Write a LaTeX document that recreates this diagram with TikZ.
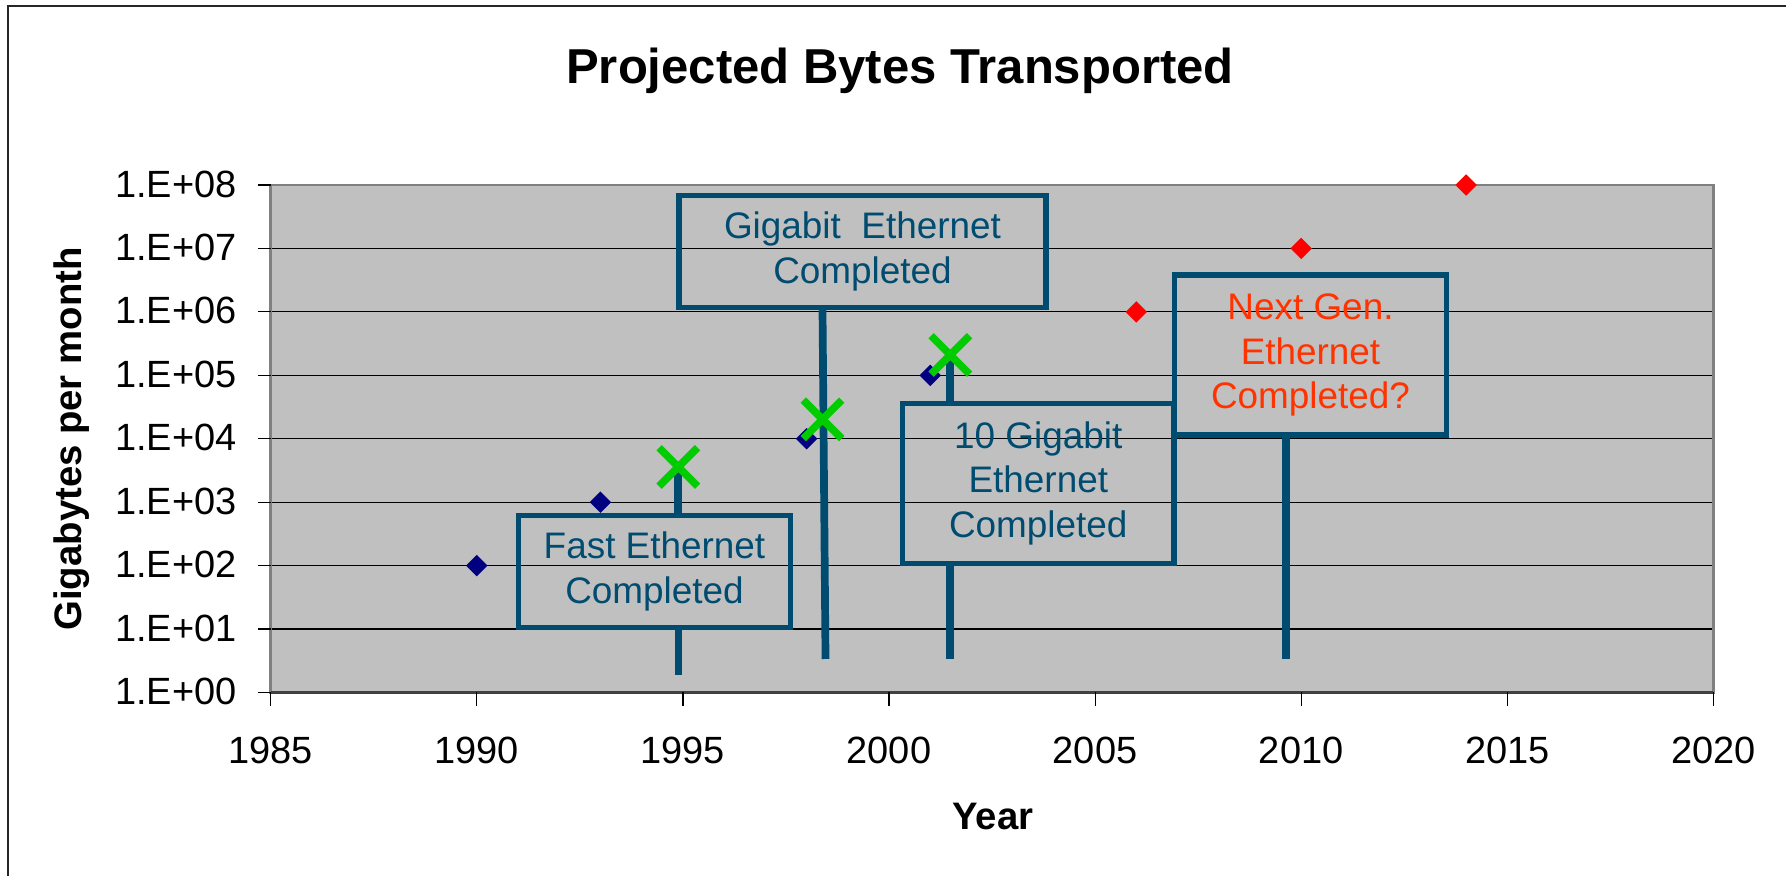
\documentclass[tikz,border=0pt]{standalone}
\usepackage{fontspec}
\setmainfont{Liberation Sans}
\usetikzlibrary{shapes.geometric,shapes.misc}

\definecolor{plotgray}{HTML}{C0C0C0}
\definecolor{navy}{HTML}{000080}
\definecolor{calloutblue}{RGB}{0,76,112}
\definecolor{markgreen}{HTML}{00CC00}
\definecolor{nextred}{HTML}{FF3300}

\begin{document}
\begin{tikzpicture}[
    callout/.style={draw=calloutblue, line width=0.055cm, text=calloutblue, align=center,
                    inner sep=0pt, font=\fontsize{10.5}{12.6}\selectfont},
    stem/.style={draw=calloutblue, line width=0.077cm},
    past/.style={shape=diamond, fill=navy, inner sep=0pt, minimum size=0.22cm},
    future/.style={past, fill=red},
    done/.style={shape=cross out, draw=markgreen, line width=0.075cm, inner sep=0pt, minimum size=0.31cm},
    ticklabel/.style={font=\fontsize{10.8}{13}\selectfont, inner sep=0pt},
    axisname/.style={font=\fontsize{10.9}{13}\selectfont\bfseries, inner sep=0pt}]

\useasboundingbox (0, 0) rectangle (17.86, 8.76);

% Frame, title and axis names
\draw[line width=0.02cm, black!85] (0.083, -0.1) -- (0.083, 8.70) -- (18, 8.70);
\node (title) [font=\fontsize{13.95}{16}\selectfont\bfseries, inner sep=0pt, anchor=base] at (9.00, 7.927) {Projected Bytes Transported};
\node (ylab) [axisname, rotate=90, anchor=base] at (0.815, 4.37) {Gigabytes per month};
\node (xlab) [axisname, anchor=base] at (9.93, 0.467) {Year};

% Plot area: x in years after 1985, y in decades
\begin{scope}[shift={(2.707, 1.835)}, x=0.4122cm, y=0.6343cm]
\fill[plotgray] (0, 0) rectangle (35, 8);
\foreach \d in {1,...,7}
  \draw[line width=0.012cm] (0, \d) -- (35, \d);
\draw[line width=0.025cm, gray] (0, 0) rectangle (35, 8);
\draw[line width=0.03cm, black!75] (0, 0) -- (35, 0);
\foreach \d in {0,...,8} {
  \draw[line width=0.012cm] (-0.31, \d) -- (0, \d);
  \node [ticklabel, anchor=base east] at (-0.81, \d-0.19) {1.E+0\d};
}
\foreach \yr [count=\i from 0] in {1985,1990,...,2020} {
  \draw[line width=0.012cm] (5*\i, 0) -- (5*\i, -0.21);
  \node [ticklabel, anchor=base] at (5*\i, -1.116) {\yr};
}

% Measured and projected traffic
\node (p1990) [past] at (5, 2) {};
\node (p1993) [past] at (8, 3) {};
\node (p1998) [past] at (13, 4) {};
\node (p2001) [past] at (16, 5) {};
\node (f2006) [future] at (21, 6) {};
\node (f2010) [future] at (25, 7) {};
\node (f2014) [future] at (29, 8) {};

% Where the standards were completed
\coordinate (m1) at (9.888, 3.555);
\coordinate (m2) at (13.387, 4.307);
\coordinate (m3) at (16.487, 5.321);
\coordinate (e1) at (9.893, 0.276);
\coordinate (e2) at (13.46, 0.528);
\coordinate (e3) at (16.487, 0.528);
\coordinate (e4) at (24.63, 0.528);
\end{scope}

% Callouts
\node (fastbox) [callout, minimum width=2.72cm, minimum height=1.12cm] at (6.545, 3.045) {Fast Ethernet\\Completed};
\node (gigabox) [callout, minimum width=3.67cm, minimum height=1.12cm] at (8.625, 6.245) {Gigabit\ \ Ethernet\\Completed};
\node (tenbox) [callout, minimum width=2.715cm, minimum height=1.6cm] at (10.383, 3.926) {10 Gigabit\\Ethernet\\Completed};
\node (nextbox) [callout, text=nextred, minimum width=2.72cm, minimum height=1.6cm] at (13.105, 5.21) {Next Gen.\\Ethernet\\Completed?};

% Stems
\draw [stem] (m1) -- (m1 |- fastbox.north);
\draw [stem] (fastbox.south -| e1) -- (e1);
\draw [stem] (gigabox.south -| m2) -- (e2);
\draw [stem] (m3) -- (m3 |- tenbox.north);
\draw [stem] (tenbox.south -| e3) -- (e3);
\draw [stem] (nextbox.south -| e4) -- (e4);

% Completion marks
\node (fastmark) [done] at (m1) {};
\node (gigamark) [done] at (m2) {};
\node (tenmark) [done] at (m3) {};

\end{tikzpicture}
\end{document}
